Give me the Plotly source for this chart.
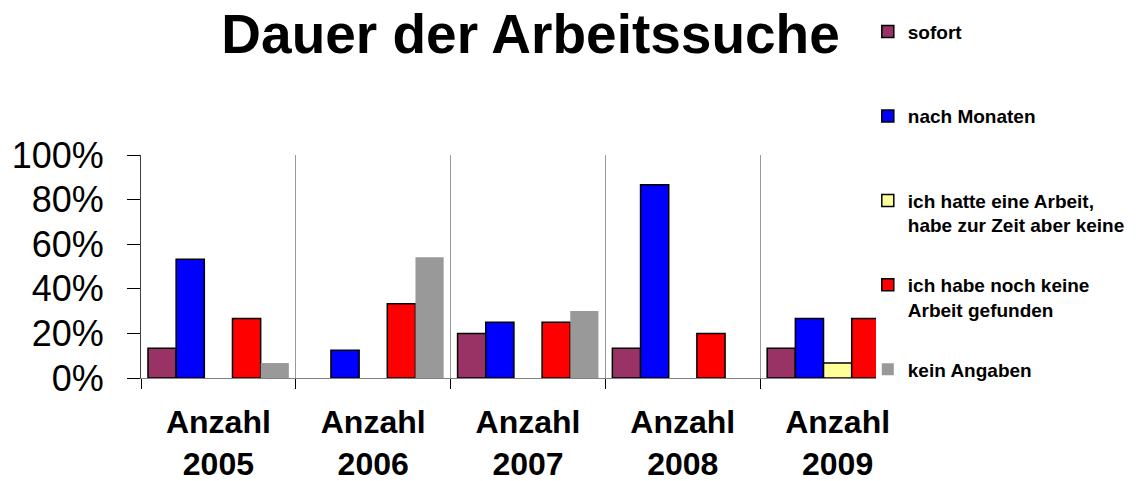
import plotly.graph_objects as go

categories = ["Anzahl<br>2005", "Anzahl<br>2006", "Anzahl<br>2007", "Anzahl<br>2008", "Anzahl<br>2009"]
series_names = ["sofort", "nach Monaten", "ich hatte eine Arbeit,<br>habe zur Zeit aber keine",
                "ich habe noch keine<br>Arbeit gefunden", "kein Angaben"]
sofort = [0.133, None, 0.20, 0.133, 0.133]
nach_monaten = [0.533, 0.125, 0.25, 0.867, 0.267]
hatte_arbeit = [None, None, None, None, 0.067]
noch_keine = [0.267, 0.333, 0.25, 0.20, 0.267]
kein_angaben = [0.067, 0.542, 0.30, None, None]
y_tickvals = [0, 0.2, 0.4, 0.6, 0.8, 1.0]
y_ticktext = ["0%", "20%", "40%", "60%", "80%", "100%"]

values = [sofort, nach_monaten, hatte_arbeit, noch_keine, kein_angaben]
colors = ["#993366", "#0000FF", "#FFFF99", "#FF0000", "#999999"]
borders = [1.5, 1.5, 1.5, 1.5, 0]

fig = go.Figure()
for i, (name, vals) in enumerate(zip(series_names, values)):
    label = "<b>" + name + "</b>"
    if "<br>" not in name:
        label += "<br> "
    fig.add_trace(go.Bar(
        x=categories, y=vals, name=label,
        marker=dict(color=colors[i], line=dict(color="black", width=borders[i])),
        legendgroup=f"g{i}",
    ))

fig.update_layout(
    width=1141, height=481,
    margin=dict(l=141, r=264, t=155, b=103),
    paper_bgcolor="white", plot_bgcolor="white",
    barmode="group", bargap=0.09, bargroupgap=0,
    font=dict(family="Liberation Sans, Arial, sans-serif", color="black"),
    title=dict(text="<b>Dauer der Arbeitssuche</b>", x=0.465, xanchor="center",
               y=0.93, yanchor="middle", font=dict(size=55, color="black"),
               automargin=False),
    legend=dict(x=0.9875, xanchor="left", y=1.638, yanchor="top",
                font=dict(size=19, color="black"), tracegroupgap=32,
                valign="top", bgcolor="rgba(0,0,0,0)", maxheight=480),
    showlegend=True,
)
fig.update_xaxes(
    type="category", range=[-0.5, 4.248], automargin=False,
    tickson="boundaries", ticks="outside", ticklen=10, tickcolor="black", tickwidth=1,
    showgrid=True, gridcolor="#999999", gridwidth=1,
    showline=True, linecolor="#808080", linewidth=1,
    tickfont=dict(size=32, color="black"), ticklabelstandoff=16,
    ticktext=["<b>" + c + "</b>" for c in categories], tickvals=categories,
)
fig.update_yaxes(
    range=[0, 1], tickvals=y_tickvals, ticktext=y_ticktext, automargin=False,
    ticks="outside", ticklen=13, tickcolor="black", tickwidth=1,
    showgrid=False, zeroline=False,
    showline=True, linecolor="#404040", linewidth=1,
    tickfont=dict(size=36, color="black"), ticklabelstandoff=16,
)
fig.write_html("out.html", config={"displayModeBar": False},
               post_script="document.body.style.margin='0';")
